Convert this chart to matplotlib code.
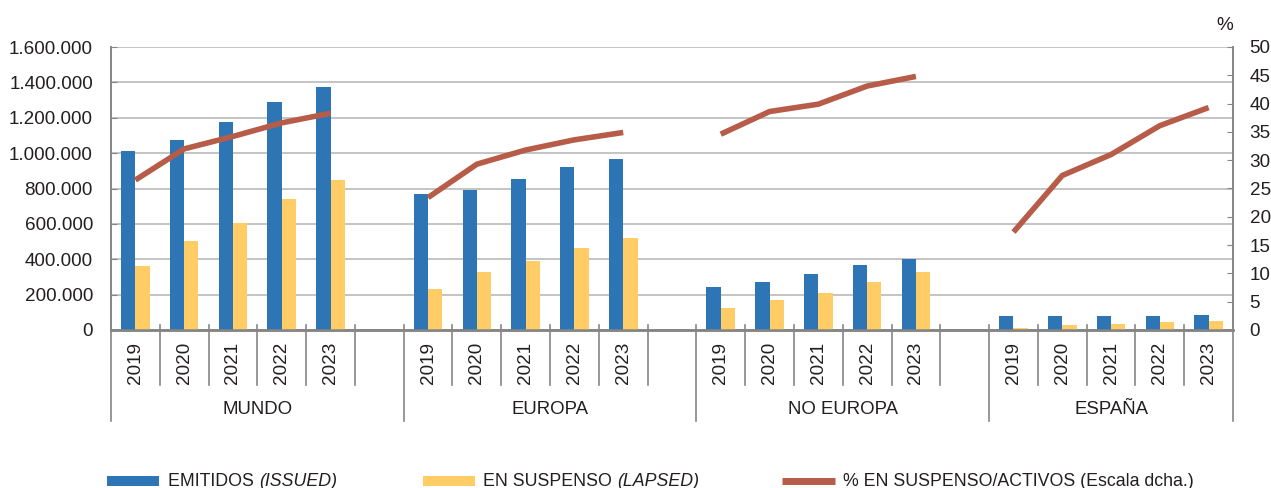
import matplotlib
matplotlib.use('Agg')
import matplotlib.pyplot as plt
import matplotlib.transforms as mtransforms
from matplotlib.patches import Rectangle
from matplotlib.lines import Line2D
import numpy as np

plt.rcParams['font.family'] = ['Liberation Sans', 'DejaVu Sans']

# ---------------- data ----------------
groups = ['MUNDO', 'EUROPA', 'NO EUROPA', 'ESPAÑA']
years = ['2019', '2020', '2021', '2022', '2023']

issued_mundo = [1010000, 1072000, 1176000, 1289000, 1374000]
issued_europa = [767000, 793000, 855000, 920000, 965000]
issued_noeuropa = [241000, 273000, 317000, 366000, 403000]
issued_espana = [79000, 79000, 80000, 81000, 84000]

lapsed_mundo = [362000, 503000, 605000, 739000, 848000]
lapsed_europa = [232000, 326000, 392000, 462000, 518000]
lapsed_noeuropa = [124000, 171000, 207000, 273000, 326000]
lapsed_espana = [13000, 27000, 36000, 45000, 51000]

pct_mundo = [26.5, 32.0, 34.2, 36.6, 38.3]
pct_europa = [23.4, 29.3, 31.8, 33.6, 34.9]
pct_noeuropa = [34.6, 38.6, 39.9, 43.1, 44.8]
pct_espana = [17.3, 27.3, 31.0, 36.1, 39.3]

left_ticks = [0, 200000, 400000, 600000, 800000, 1000000, 1200000, 1400000, 1600000]
right_ticks = [0, 5, 10, 15, 20, 25, 30, 35, 40, 45, 50]

legend_labels = [('EMITIDOS ', '(ISSUED)'),
                 ('EN SUSPENSO ', '(LAPSED)'),
                 ('% EN SUSPENSO/ACTIVOS (Escala dcha.)', '')]

issued = [issued_mundo, issued_europa, issued_noeuropa, issued_espana]
lapsed = [lapsed_mundo, lapsed_europa, lapsed_noeuropa, lapsed_espana]
pct = [pct_mundo, pct_europa, pct_noeuropa, pct_espana]

# ---------------- style ----------------
BLUE = '#2E75B6'
YELLOW = '#FFCC66'
RED = '#B65C48'
GRID = '#B4B4B4'
AXIS = '#858585'
TXT = '#231F20'
FS = 13.6
FS_G = 13.4
FS_L = 12.8

W, H = 1271, 488
fig = plt.figure(figsize=(W / 100, H / 100), dpi=100)
ax = fig.add_axes([111 / W, 1 - 330 / H, (1233 - 111) / W, (330 - 47) / H])
ax2 = ax.twinx()

# slot layout: each group has 5 years, plus a blank slot after all but the last
slot_sizes = [len(years) + (1 if i < len(groups) - 1 else 0) for i in range(len(groups))]
n_slots = sum(slot_sizes)
bw = 0.293

tick_pos, tick_lab = [], []
start = 0
group_bounds = [0]
for gi, g in enumerate(groups):
    x = np.arange(len(years)) + start + 0.5
    ax.bar(x - bw / 2, issued[gi], width=bw, color=BLUE, zorder=3, linewidth=0)
    ax.bar(x + bw / 2, lapsed[gi], width=bw, color=YELLOW, zorder=3, linewidth=0)
    ax2.plot(x, pct[gi], color=RED, lw=4, solid_capstyle='butt', zorder=4)
    for k in range(slot_sizes[gi]):
        tick_pos.append(start + k + 0.5)
        tick_lab.append(years[k] if k < len(years) else '')
    start += slot_sizes[gi]
    group_bounds.append(start)

ax.set_xlim(0, n_slots)
ax.set_ylim(0, 1600000)
ax2.set_ylim(0, 50)

ax.set_yticks(left_ticks)
ax.set_yticklabels([f"{v:,}".replace(',', '.') for v in left_ticks])
ax2.set_yticks(right_ticks)

ax.set_xticks(tick_pos)
ax.set_xticklabels(tick_lab, rotation=90, fontsize=FS, color=TXT)
ax.tick_params(axis='x', length=0, pad=8.5)
ax.tick_params(axis='y', direction='in', length=4, color=AXIS, labelsize=FS,
               labelcolor=TXT, pad=13)
ax2.tick_params(axis='y', direction='in', length=4, color=AXIS, labelsize=FS,
                labelcolor=TXT, pad=12)

ax.yaxis.grid(True, color=GRID, lw=1.1, zorder=0)
ax.set_axisbelow(True)

for a in (ax, ax2):
    a.spines['top'].set_visible(False)
    a.spines['left'].set_color(AXIS)
    a.spines['right'].set_color(AXIS)
    a.spines['bottom'].set_color(AXIS)
    a.spines['left'].set_linewidth(1.2)
    a.spines['right'].set_linewidth(1.2)
    a.spines['bottom'].set_linewidth(1.8)

# category separators
trans = mtransforms.blended_transform_factory(ax.transData, ax.transAxes)
y_top = 5 / 283
y_year = -(385 - 330) / 283
y_group = -(421 - 330) / 283
for b in range(0, n_slots + 1):
    if b in group_bounds:
        y0 = 0 if b in (0, n_slots) else y_top
        ln = Line2D([b, b], [y0, y_group], transform=trans, color=AXIS, lw=1.2, clip_on=False)
    else:
        ln = Line2D([b, b], [y_top, y_year], transform=trans, color=AXIS, lw=1.2, clip_on=False)
    ax.add_line(ln)

for gi, g in enumerate(groups):
    cx = (group_bounds[gi] + group_bounds[gi + 1]) / 2
    ax.text(cx, -(409 - 330) / 283, g, transform=trans, ha='center', va='center',
            fontsize=FS_G, color=TXT)

fig.text(1225 / W, 1 - 25 / H, '%', ha='center', va='center', fontsize=FS, color=TXT)

# legend (manual)
leg_y = 1 - 481 / H
patches = [(107, 159, BLUE, 'patch'), (423, 475, YELLOW, 'patch'), (782, 835, RED, 'line')]
text_x = [168, 483, 843]
for (x0, x1, c, kind), tx, (t1, t2) in zip(patches, text_x, legend_labels):
    if kind == 'patch':
        fig.patches.append(Rectangle((x0 / W, 1 - 486 / H), (x1 - x0) / W, 10 / H,
                                     transform=fig.transFigure, color=c, lw=0))
    else:
        fig.lines.append(Line2D([x0 / W, x1 / W], [1 - 481 / H, 1 - 481 / H],
                                transform=fig.transFigure, color=c, lw=5,
                                solid_capstyle='butt'))
    fig.text(tx / W, leg_y, t1, ha='left', va='center', fontsize=FS_L, color=TXT)

fig.canvas.draw()
r = fig.canvas.get_renderer()
for tobj in list(fig.texts):
    for (t1, t2) in legend_labels:
        if t2 and tobj.get_text() == t1:
            bb = tobj.get_window_extent(r)
            fig.text(bb.x1 / W, leg_y, t2, ha='left', va='center', fontsize=FS_L,
                     color=TXT, style='italic')

fig.savefig('out.png', dpi=100)
